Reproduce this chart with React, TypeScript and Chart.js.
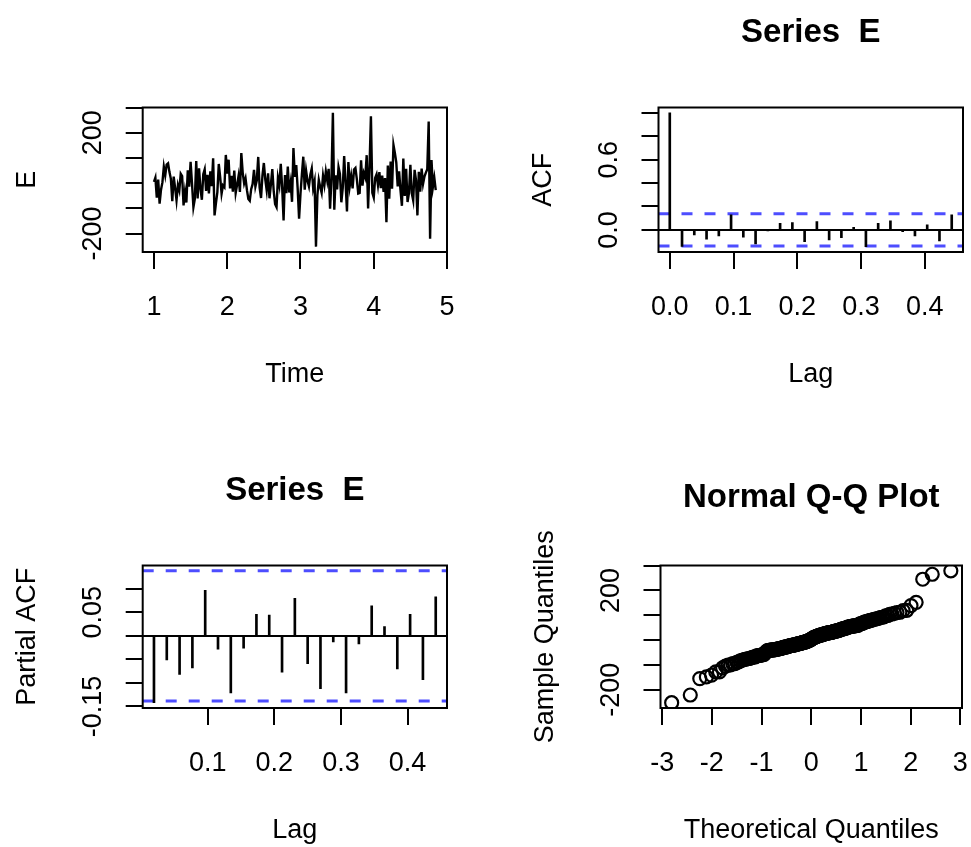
import React, { useEffect, useRef } from "react";
import { Chart, registerables } from "chart.js";

Chart.register(...registerables);

const PAGE_W = 971;
const PAGE_H = 847;
const FONT_FAMILY = '"Liberation Sans", Arial, Helvetica, sans-serif';
const BLUE = "#4d4dff";

// ---------------- data ----------------
const seriesStart = 1;
const seriesFrequency = 52;
const seriesE = [
  5, 22, -58, 14, -81, -26, 3, 65, 31, 74,
  79, 44, 17, -72, 26, -19, -68, -8, -29, 37,
  28, -88, -33, -77, 51, -14, 85, -2, -95, -62,
  88, -61, 59, -23, -66, 36, 55, -31, 33, -41,
  47, -12, 99, -128, -79, -36, 76, 24, -42, -9,
  -16, 112, 38, 93, -21, 29, -34, 50, -39, -7,
  27, -35, 119, 41, -1, 19, -28, -63, -70, -24,
  -4, 53, -14, 11, 104, -18, -59, 30, 80, 15,
  -28, 39, -60, -5, 56, -32, -83, -95, 21, -9,
  77, -17, -148, 32, -40, 66, -37, 2, -74, 139,
  25, 72, -22, -141, -43, 35, 105, -26, 49, 9,
  -13, 34, 58, -20, 7, -252, -48, 13, -15, -38,
  30, -6, 46, 10, 57, -101, 18, 279, -105, 31,
  -25, 64, 37, -76, -19, 108, 1, -112, 84, -11,
  28, -21, 54, 60, 16, -41, -39, 91, -10, 40,
  23, 111, -100, 67, 265, -38, -57, 20, 35, -8,
  44, -20, 30, -35, 20, -155, 70, -62, 86, -22,
  152, 120, 82, -13, 47, -29, -90, 98, -51, 57,
  -75, -39, 73, -40, -68, 53, 12, -128, 45, -34,
  58, -3, 26, 42, 55, 245, -221, 92, -16, 21,
  -28,
];

// autocorrelations at lags 0..23 (lag unit = 1/52)
const acfValues = [
  1, -0.142, -0.043, -0.08, -0.051, 0.129, -0.063, -0.12, -0.005, 0.057,
  0.063, -0.1, 0.071, -0.086, -0.066, 0.023, -0.143, 0.057, 0.077, -0.014,
  -0.051, 0.043, -0.094, 0.129,
];
// partial autocorrelations at lags 1..23
const pacfValues = [
  -0.142, -0.051, -0.082, -0.068, 0.097, -0.028, -0.121, -0.026, 0.046, 0.044,
  -0.077, 0.08, -0.059, -0.112, -0.013, -0.121, -0.017, 0.064, 0.02, -0.07,
  0.046, -0.093, 0.083,
];
const confLimit = 0.1383;

// ticks and tick labels
const tsXTicks = [1, 2, 3, 4, 5];
const tsXTickLabels = ["1", "2", "3", "4", "5"];
const tsYTicks = [-200, -100, 0, 100, 200, 300];
const tsYTickLabels = ["-200", "", "", "", "200", ""];
const acfXTicks = [0, 0.1, 0.2, 0.3, 0.4];
const acfXTickLabels = ["0.0", "0.1", "0.2", "0.3", "0.4"];
const acfYTicks = [0, 0.2, 0.4, 0.6, 0.8, 1.0];
const acfYTickLabels = ["0.0", "", "", "0.6", "", ""];
const pacfXTicks = [0.1, 0.2, 0.3, 0.4];
const pacfXTickLabels = ["0.1", "0.2", "0.3", "0.4"];
const pacfYTicks = [-0.15, -0.1, -0.05, 0, 0.05, 0.1];
const pacfYTickLabels = ["-0.15", "", "", "", "0.05", ""];
const qqXTicks = [-3, -2, -1, 0, 1, 2, 3];
const qqXTickLabels = ["-3", "-2", "-1", "0", "1", "2", "3"];
const qqYTicks = [-200, -100, 0, 100, 200, 300];
const qqYTickLabels = ["-200", "", "", "", "200", ""];

// ---------------- layout ----------------
type Area = { left: number; top: number; right: number; bottom: number };
const AREA_TS: Area = { left: 142.7, top: 107.5, right: 447, bottom: 252 };
const AREA_ACF: Area = { left: 658.5, top: 107.5, right: 963, bottom: 252 };
const AREA_PACF: Area = { left: 142.7, top: 565.5, right: 447, bottom: 708 };
const AREA_QQ: Area = { left: 660.5, top: 565.5, right: 962, bottom: 708 };

const AXIS_W = 20;
const TICK_LEN = 17;
const Y_TICKLABEL_OFF = 41.5;
const Y_TITLE_OFF = 108;
const X_TICKLABEL_OFF = 62.5;
const X_TITLE_OFF = 129.5;
const MAIN_OFF = 66;

// ---------------- helpers ----------------
function rRange(values: number[]): [number, number] {
  const mn = Math.min(...values);
  const mx = Math.max(...values);
  const p = (mx - mn) * 0.04;
  return [mn - p, mx + p];
}

function qnorm(p: number): number {
  const a = [-3.969683028665376e1, 2.209460984245205e2, -2.759285104469687e2, 1.38357751867269e2, -3.066479806614716e1, 2.506628277459239];
  const b = [-5.447609879822406e1, 1.615858368580409e2, -1.556989798598866e2, 6.680131188771972e1, -1.328068155288572e1];
  const c = [-7.784894002430293e-3, -3.223964580411365e-1, -2.400758277161838, -2.549732539343734, 4.374664141464968, 2.938163982698783];
  const d = [7.784695709041462e-3, 3.224671290700398e-1, 2.445134137142996, 3.754408661907416];
  const pl = 0.02425;
  if (p < pl) {
    const q = Math.sqrt(-2 * Math.log(p));
    return (((((c[0] * q + c[1]) * q + c[2]) * q + c[3]) * q + c[4]) * q + c[5]) / ((((d[0] * q + d[1]) * q + d[2]) * q + d[3]) * q + 1);
  }
  if (p <= 1 - pl) {
    const q = p - 0.5;
    const r = q * q;
    return ((((((a[0] * r + a[1]) * r + a[2]) * r + a[3]) * r + a[4]) * r + a[5]) * q) / (((((b[0] * r + b[1]) * r + b[2]) * r + b[3]) * r + b[4]) * r + 1);
  }
  const q = Math.sqrt(-2 * Math.log(1 - p));
  return -(((((c[0] * q + c[1]) * q + c[2]) * q + c[3]) * q + c[4]) * q + c[5]) / ((((d[0] * q + d[1]) * q + d[2]) * q + d[3]) * q + 1);
}

type PanelSpec = {
  area: Area;
  xRange: [number, number];
  yRange: [number, number];
  xTicks: number[];
  xLabels: string[];
  yTicks: number[];
  yLabels: string[];
  title?: string;
  titleShift?: number;
  xTitle: string;
  yTitle: string;
  type: "line" | "bar" | "scatter";
  datasets: any[];
};

function rDecor(spec: PanelSpec) {
  return {
    id: "rDecor",
    afterDraw(chart: any) {
      const { ctx, chartArea: a } = chart;
      const xs = chart.scales.x;
      const ys = chart.scales.y;
      ctx.save();
      ctx.strokeStyle = "#000";
      ctx.lineWidth = 2;
      ctx.strokeRect(a.left, a.top, a.right - a.left, a.bottom - a.top);
      ctx.fillStyle = "#000";
      ctx.textAlign = "center";
      ctx.textBaseline = "alphabetic";
      ctx.font = `27px ${FONT_FAMILY}`;
      spec.xTicks.forEach((v, i) => {
        const t = spec.xLabels[i];
        if (t) ctx.fillText(t, xs.getPixelForValue(v), a.bottom + X_TICKLABEL_OFF);
      });
      spec.yTicks.forEach((v, i) => {
        const t = spec.yLabels[i];
        if (!t) return;
        ctx.save();
        ctx.translate(a.left - Y_TICKLABEL_OFF, ys.getPixelForValue(v));
        ctx.rotate(-Math.PI / 2);
        ctx.fillText(t, 0, 0);
        ctx.restore();
      });
      ctx.fillText(spec.xTitle, (a.left + a.right) / 2, a.bottom + X_TITLE_OFF);
      ctx.save();
      ctx.translate(a.left - Y_TITLE_OFF, (a.top + a.bottom) / 2);
      ctx.rotate(-Math.PI / 2);
      ctx.fillText(spec.yTitle, 0, 0);
      ctx.restore();
      if (spec.title) {
        ctx.font = `bold 33px ${FONT_FAMILY}`;
        ctx.fillText(spec.title, (a.left + a.right) / 2, a.top - MAIN_OFF + (spec.titleShift || 0));
      }
      ctx.restore();
    },
  };
}

function scaleCfg(range: [number, number], ticks: number[], horizontal: boolean) {
  return {
    type: "linear",
    min: range[0],
    max: range[1],
    offset: false,
    afterBuildTicks: (s: any) => {
      s.ticks = ticks.map((v) => ({ value: v }));
    },
    afterFit: (s: any) => {
      if (horizontal) s.height = AXIS_W;
      else s.width = AXIS_W;
    },
    ticks: { display: false },
    grid: {
      display: true,
      drawOnChartArea: false,
      drawTicks: true,
      tickLength: TICK_LEN,
      color: "#000",
      tickColor: "#000",
      lineWidth: 2,
      tickWidth: 2,
      offset: false,
    },
    border: { display: false },
  };
}

function makeChart(canvas: HTMLCanvasElement, spec: PanelSpec) {
  const a = spec.area;
  return new Chart(canvas, {
    type: spec.type as any,
    data: { datasets: spec.datasets },
    options: {
      responsive: false,
      animation: false,
      devicePixelRatio: 1,
      events: [],
      layout: {
        padding: {
          left: a.left - AXIS_W,
          top: a.top,
          right: PAGE_W - a.right,
          bottom: PAGE_H - a.bottom - AXIS_W,
        },
      },
      plugins: {
        legend: { display: false },
        title: { display: false },
        tooltip: { enabled: false },
      },
      scales: {
        x: scaleCfg(spec.xRange, spec.xTicks, true) as any,
        y: scaleCfg(spec.yRange, spec.yTicks, false) as any,
      },
    } as any,
    plugins: [rDecor(spec)],
  });
}

function hline(y: number, range: [number, number], color: string, width: number, dash: number[]) {
  return {
    type: "line",
    data: [
      { x: range[0], y },
      { x: range[1], y },
    ],
    borderColor: color,
    borderWidth: width,
    borderDash: dash,
    pointRadius: 0,
    fill: false,
  };
}

function buildSpecs(): PanelSpec[] {
  // time series
  const times = seriesE.map((_, i) => seriesStart + i / seriesFrequency);
  const tsX = rRange(times);
  const tsY = rRange(seriesE);

  // ACF
  const acfLags = acfValues.map((_, k) => k / seriesFrequency);
  const acfX = rRange(acfLags);
  const acfY = rRange([...acfValues, -confLimit, confLimit]);

  // PACF
  const pacfLags = pacfValues.map((_, k) => (k + 1) / seriesFrequency);
  const pacfX = rRange(pacfLags);
  const pacfY = rRange([...pacfValues, -confLimit, confLimit]);

  // Normal Q-Q
  const n = seriesE.length;
  const sorted = [...seriesE].sort((p, q) => p - q);
  const theo = sorted.map((_, i) => qnorm((i + 1 - 0.5) / n));
  const qqX = rRange(theo);
  const qqY = rRange(sorted);

  return [
    {
      area: AREA_TS,
      xRange: tsX,
      yRange: tsY,
      xTicks: tsXTicks,
      xLabels: tsXTickLabels,
      yTicks: tsYTicks,
      yLabels: tsYTickLabels,
      xTitle: "Time",
      yTitle: "E",
      type: "line",
      datasets: [
        {
          data: times.map((t, i) => ({ x: t, y: seriesE[i] })),
          borderColor: "#000",
          borderWidth: 2.4,
          pointRadius: 0,
          tension: 0,
          fill: false,
        },
      ],
    },
    {
      area: AREA_ACF,
      xRange: acfX,
      yRange: acfY,
      xTicks: acfXTicks,
      xLabels: acfXTickLabels,
      yTicks: acfYTicks,
      yLabels: acfYTickLabels,
      title: "Series  E",
      xTitle: "Lag",
      yTitle: "ACF",
      type: "bar",
      datasets: [
        {
          type: "bar",
          data: acfLags.map((x, k) => ({ x, y: acfValues[k] })),
          backgroundColor: "#000",
          borderWidth: 0,
          barThickness: 2,
        },
        hline(0, acfX, "#000", 2, []),
        hline(confLimit, acfX, BLUE, 3, [11, 12]),
        hline(-confLimit, acfX, BLUE, 3, [11, 12]),
      ],
    },
    {
      area: AREA_PACF,
      xRange: pacfX,
      yRange: pacfY,
      xTicks: pacfXTicks,
      xLabels: pacfXTickLabels,
      yTicks: pacfYTicks,
      yLabels: pacfYTickLabels,
      title: "Series  E",
      xTitle: "Lag",
      yTitle: "Partial ACF",
      type: "bar",
      datasets: [
        {
          type: "bar",
          data: pacfLags.map((x, k) => ({ x, y: pacfValues[k] })),
          backgroundColor: "#000",
          borderWidth: 0,
          barThickness: 2,
        },
        hline(0, pacfX, "#000", 2, []),
        hline(confLimit, pacfX, BLUE, 3, [11, 12]),
        hline(-confLimit, pacfX, BLUE, 3, [11, 12]),
      ],
    },
    {
      area: AREA_QQ,
      xRange: qqX,
      yRange: qqY,
      xTicks: qqXTicks,
      xLabels: qqXTickLabels,
      yTicks: qqYTicks,
      yLabels: qqYTickLabels,
      title: "Normal Q-Q Plot",
      titleShift: 7,
      xTitle: "Theoretical Quantiles",
      yTitle: "Sample Quantiles",
      type: "scatter",
      datasets: [
        {
          data: theo.map((x, i) => ({ x, y: sorted[i] })),
          showLine: false,
          pointRadius: 6.5,
          pointBorderWidth: 2.2,
          pointBackgroundColor: "rgba(0,0,0,0)",
          pointBorderColor: "#000",
        },
      ],
    },
  ];
}

const SPECS = buildSpecs();

export default function App() {
  const canvases = useRef<(HTMLCanvasElement | null)[]>([]);

  useEffect(() => {
    const charts = SPECS.map((spec, i) => makeChart(canvases.current[i] as HTMLCanvasElement, spec));
    return () => {
      charts.forEach((c) => c.destroy());
    };
  }, []);

  return (
    <div
      style={{
        position: "fixed",
        left: 0,
        top: 0,
        width: PAGE_W,
        height: PAGE_H,
        background: "#fff",
        overflow: "hidden",
      }}
    >
      {SPECS.map((_, i) => (
        <canvas
          key={i}
          ref={(el) => {
            canvases.current[i] = el;
          }}
          width={PAGE_W}
          height={PAGE_H}
          style={{ position: "absolute", left: 0, top: 0, width: PAGE_W, height: PAGE_H }}
        />
      ))}
    </div>
  );
}
